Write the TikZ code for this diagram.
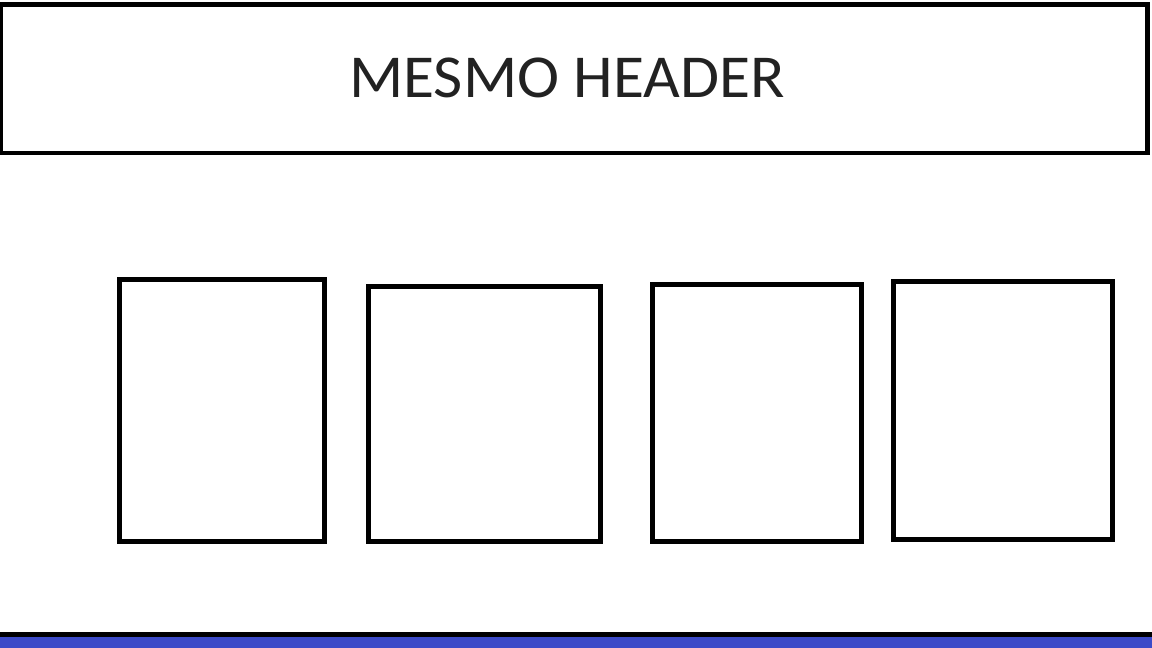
\documentclass[tikz,border=0pt]{standalone}
\usepackage{fontspec}
\setmainfont{Carlito}
\definecolor{barblue}{HTML}{3C4AC8}
\definecolor{txtgray}{HTML}{222222}
\begin{document}
\begin{tikzpicture}[x=1pt,y=-1pt,
  panel/.style={draw=black,line width=5pt,fill=white,inner sep=0pt,outer sep=0pt}]
\useasboundingbox (0,0) rectangle (1152,648);
\fill[white] (0,0) rectangle (1152,648);
% header
\node[panel,line width=4.6pt,minimum width=1146.5pt,minimum height=148.5pt] (header) at (574.25,78.75) {};
\node[anchor=base,text=txtgray,font=\fontsize{61pt}{61pt}\selectfont,inner sep=0pt] (title) at (567,97) {\scalebox{1.04}[1]{MESMO HEADER}};
% boxes
\node[panel,minimum width=204.7pt,minimum height=261.3pt] (b1) at (221.65,410.35) {};
\node[panel,minimum width=231.5pt,minimum height=254.5pt] (b2) at (484.25,413.75) {};
\node[panel,minimum width=208.5pt,minimum height=257.2pt] (b3) at (756.75,412.9) {};
\node[panel,minimum width=219pt,minimum height=257.5pt] (b4) at (1003,410.25) {};
% footer bar
\fill[barblue] (0,637) rectangle (1152,648);
\fill[black] (0,632) rectangle (1152,637);
\end{tikzpicture}
\end{document}
